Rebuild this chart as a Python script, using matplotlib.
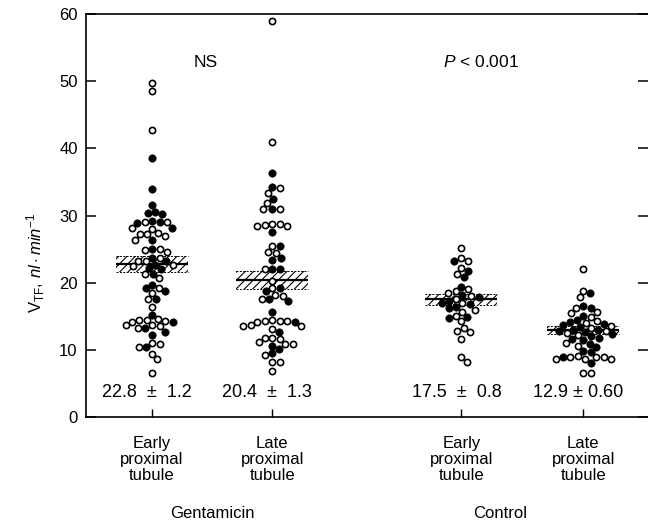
import numpy as np
import matplotlib.pyplot as plt

plt.rcParams['font.family'] = ['Liberation Sans', 'DejaVu Sans']
plt.rcParams['mathtext.fontset'] = 'custom'
plt.rcParams['mathtext.rm'] = 'Liberation Sans'
plt.rcParams['mathtext.it'] = 'Liberation Sans:italic'
plt.rcParams['hatch.linewidth'] = 0.8

# group labels and summary stats
groups = ['Early\nproximal\ntubule', 'Late\nproximal\ntubule',
          'Early\nproximal\ntubule', 'Late\nproximal\ntubule']
treatments = ['Gentamicin', 'Control']
means = [22.8, 20.4, 17.5, 12.9]
sems = [1.2, 1.3, 0.8, 0.60]
stat_labels = ['22.8  ±  1.2', '20.4  ±  1.3', '17.5  ±  0.8', '12.9 ± 0.60']
tests = ['NS', '$P$ < 0.001']

# individual tubule values (open / filled symbols)
gent_early_open = [49.8, 48.6, 42.8, 29.0, 29.0, 28.2, 28.0, 27.2, 27.2, 27.0, 27.4,
                   26.4, 25.0, 24.6, 24.8, 23.7, 23.2, 23.2, 22.7, 22.5, 21.3, 20.7,
                   19.2, 18.5, 17.6, 16.4, 14.5, 14.5, 14.3, 14.6, 14.2, 13.7, 13.7,
                   13.5, 13.3, 11.0, 10.8, 10.4, 9.4, 8.6, 6.6]
gent_early_fill = [38.5, 33.9, 31.5, 30.4, 30.2, 30.5, 29.0, 29.2, 28.9, 28.2, 26.4,
                   25.0, 23.7, 23.2, 22.7, 22.2, 22.0, 21.3, 19.7, 19.2, 18.7, 17.6,
                   15.2, 14.2, 13.3, 12.7, 12.2, 10.4]
gent_late_open = [59.0, 40.9, 34.1, 33.3, 31.9, 31.0, 31.0, 28.7, 28.4, 28.4, 28.7,
                  28.6, 25.4, 24.5, 24.4, 22.0, 20.3, 19.2, 18.2, 18.0, 17.6, 14.3,
                  14.3, 14.4, 14.2, 14.3, 13.6, 13.6, 13.7, 13.1, 11.8, 11.8, 11.6,
                  11.2, 10.9, 10.9, 9.2, 8.2, 8.2, 6.9]
gent_late_fill = [36.4, 34.2, 32.5, 31.0, 27.6, 25.4, 23.7, 23.4, 22.0, 22.1, 19.2,
                  18.7, 17.6, 17.2, 15.7, 14.2, 12.7, 10.1, 10.6, 9.5]
ctrl_early_open = [25.2, 23.7, 23.3, 22.2, 21.3, 18.7, 18.5, 19.0, 18.0, 17.6, 17.0,
                   16.0, 15.7, 15.1, 14.3, 13.3, 12.7, 12.8, 11.6, 8.9, 8.2]
ctrl_early_fill = [23.3, 21.8, 20.9, 19.4, 18.2, 17.8, 17.3, 17.0, 16.8, 16.4, 16.2,
                   14.8, 14.9]
ctrl_late_open = [22.1, 18.8, 17.8, 15.7, 16.3, 15.5, 14.9, 14.3, 14.0, 13.6, 13.2,
                  12.8, 12.5, 12.2, 11.0, 10.6, 8.6, 8.9, 9.0, 8.9, 8.7, 8.6, 9.1,
                  6.6, 6.6]
ctrl_late_fill = [18.4, 16.3, 16.5, 15.0, 14.5, 14.2, 13.9, 13.7, 13.4, 13.0, 12.9,
                  12.8, 12.6, 12.3, 11.8, 11.6, 12.0, 11.4, 10.9, 10.4, 9.8, 9.7,
                  8.9, 8.1]

open_sets = [gent_early_open, gent_late_open, ctrl_early_open, ctrl_late_open]
fill_sets = [gent_early_fill, gent_late_fill, ctrl_early_fill, ctrl_late_fill]

xpos = [1, 2, 3.575, 4.59]

fig = plt.figure(figsize=(6.48, 5.27), dpi=100)
ax = fig.add_axes([86 / 648, 1 - 417 / 527, 562 / 648, 403 / 527])
ax.set_xlim(0.45, 5.13)
ax.set_ylim(0, 60)


def swarm(vals, xc, diam=7.2):
    # simple beeswarm in pixel space, returns x in data units
    pix = ax.transData.transform(np.column_stack([np.full(len(vals), xc), vals]))
    ys = pix[:, 1]
    px_per_x = ax.transData.transform([(xc + 1, 0)])[0, 0] - pix[0, 0]
    cands = [0.0]
    for k in range(1, 200):
        cands += [k * 0.5, -k * 0.5]
    offs = np.zeros(len(vals))
    placed = []
    for i in np.argsort(-np.asarray(vals)):
        for c in cands:
            if all((c - ox) ** 2 + (ys[i] - oy) ** 2 >= diam ** 2 for ox, oy in placed):
                offs[i] = c
                placed.append((c, ys[i]))
                break
    return xc + offs / px_per_x


halfw = 0.3
for xc, m, se, op, fi in zip(xpos, means, sems, open_sets, fill_sets):
    vals = np.array(op + fi)
    xs = swarm(vals, xc)
    n = len(op)
    ax.fill_between([xc - halfw, xc + halfw], m - se, m + se, facecolor='none',
                    edgecolor='black', hatch='////', linewidth=0, zorder=1)
    ax.hlines([m - se, m + se], xc - halfw, xc + halfw, colors='black',
              linestyles=(0, (2, 1.5)), linewidth=0.7, zorder=1)
    ax.hlines(m, xc - halfw, xc + halfw, colors='black', linewidth=1.6, zorder=2)
    ax.scatter(xs[:n], vals[:n], s=20, facecolor='white', edgecolor='black',
               linewidth=1.2, zorder=3)
    ax.scatter(xs[n:], vals[n:], s=28, facecolor='black', edgecolor='black',
               linewidth=0.5, zorder=3)

for xc, lab in zip(xpos, stat_labels):
    ax.text(xc - 0.04, 3.7, lab, ha='center', va='center', fontsize=13)

ax.text(1.45, 52.8, tests[0], ha='center', va='center', fontsize=12.5)
ax.text(4.06, 52.8, tests[1], ha='right', va='center', fontsize=12.5)

# axes styling
for side in ['left', 'bottom', 'top']:
    ax.spines[side].set_linewidth(1.2)
ax.spines['right'].set_visible(False)
ax.set_yticks(range(0, 61, 10))
ax.tick_params(axis='y', which='both', direction='in', length=7, width=1.1,
               labelsize=12, pad=6, right=True)
ax.set_xticks(xpos)
ax.set_xticklabels([])
ax.tick_params(axis='x', direction='in', length=6, width=1.0)

for xc, g in zip(xpos, groups):
    ax.text(xc, -2.8, g, ha='center', va='top', fontsize=12, linespacing=1.1,
            transform=ax.transData)
ax.text((xpos[0] + xpos[1]) / 2, -14.3, treatments[0], ha='center', va='center',
        fontsize=12)
ax.text(3.9, -14.3, treatments[1], ha='center', va='center', fontsize=12)

fig.text(36 / 648, 1 - 263 / 527, r'V$_{\mathrm{TF}}$, $nl \cdot min^{-1}$',
         rotation=90, ha='center', va='center', fontsize=12)

fig.savefig('out.png', dpi=100)
